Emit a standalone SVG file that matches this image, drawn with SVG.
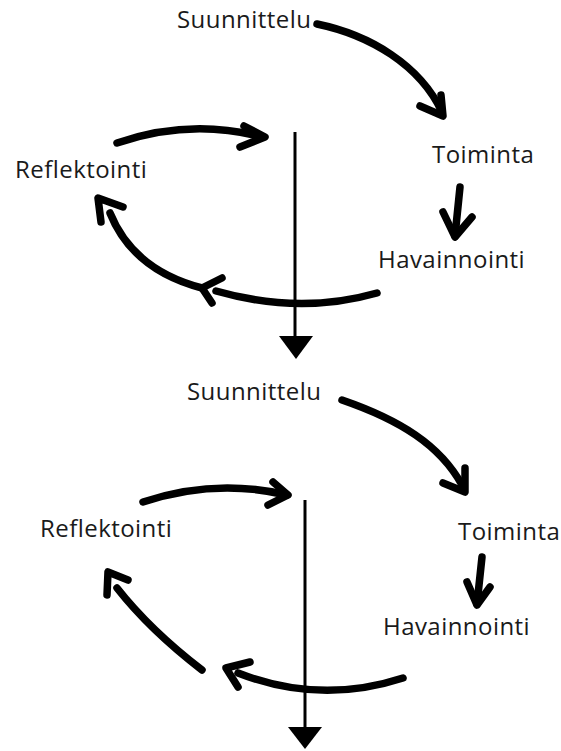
<svg xmlns="http://www.w3.org/2000/svg" width="561" height="751" viewBox="0 0 561 751">
<style>
text{font-family:"Open Sans","Liberation Sans",sans-serif;font-size:24px;letter-spacing:0.45px;fill:#1a1a1a}
.a{fill:none;stroke:#000;stroke-width:7.5;stroke-linecap:round;stroke-linejoin:round}
.v{fill:none;stroke:#000;stroke-width:3}
.t{fill:#000}
</style>
<rect width="561" height="751" fill="#fff"/>
<g id="suunnittelu1"><text x="177" y="28">Suunnittelu</text></g>
<g id="toiminta1"><text x="432" y="163">Toiminta</text></g>
<g id="havainnointi1"><text x="378" y="268">Havainnointi</text></g>
<g id="reflektointi1"><text x="15" y="178">Reflektointi</text></g>
<g id="suunnittelu2"><text x="187" y="400">Suunnittelu</text></g>
<g id="toiminta2"><text x="458" y="540">Toiminta</text></g>
<g id="havainnointi2"><text x="383" y="635">Havainnointi</text></g>
<g id="reflektointi2"><text x="40" y="537">Reflektointi</text></g>
<g id="connectors">
<path class="a" d="M317,24 C370,35 420,65 442,112"/>
<path class="a" d="M420,106 L443,116 L441,95"/>
<path class="a" d="M460,187 L455,236"/>
<path class="a" d="M443,212 L455,237 L472,217"/>
<path class="a" d="M377,293 Q300,315 216,291"/>
<path class="a" d="M222,278 L202,288 L212,303"/>
<path class="a" d="M202,288 Q133,270 110,213"/>
<path class="a" d="M123,207 L98,198 L101,222"/>
<path class="a" d="M117,143 Q190,118 262,137"/>
<path class="a" d="M244,126 L265,137 L240,147"/>
<path class="v" d="M295,132 V340"/>
<path class="t" d="M279,336 L313,336 L296,359 Z"/>

<path class="a" d="M342,400 C400,420 440,445 462,485"/>
<path class="a" d="M443,483 L465,492 L465,468"/>
<path class="a" d="M482,557 L477,604"/>
<path class="a" d="M467,582 L477,605 L490,587"/>
<path class="a" d="M403,678 Q320,705 238,673"/>
<path class="a" d="M250,662 L226,668 L238,687"/>
<path class="a" d="M202,670 Q150,630 117,588"/>
<path class="a" d="M128,580 L108,572 L107,595"/>
<path class="a" d="M143,502 Q215,478 287,495"/>
<path class="a" d="M273,482 L288,495 L268,505"/>
<path class="v" d="M305,500 V730"/>
<path class="t" d="M288,727 L322,727 L305,749 Z"/>
</g>
</svg>
